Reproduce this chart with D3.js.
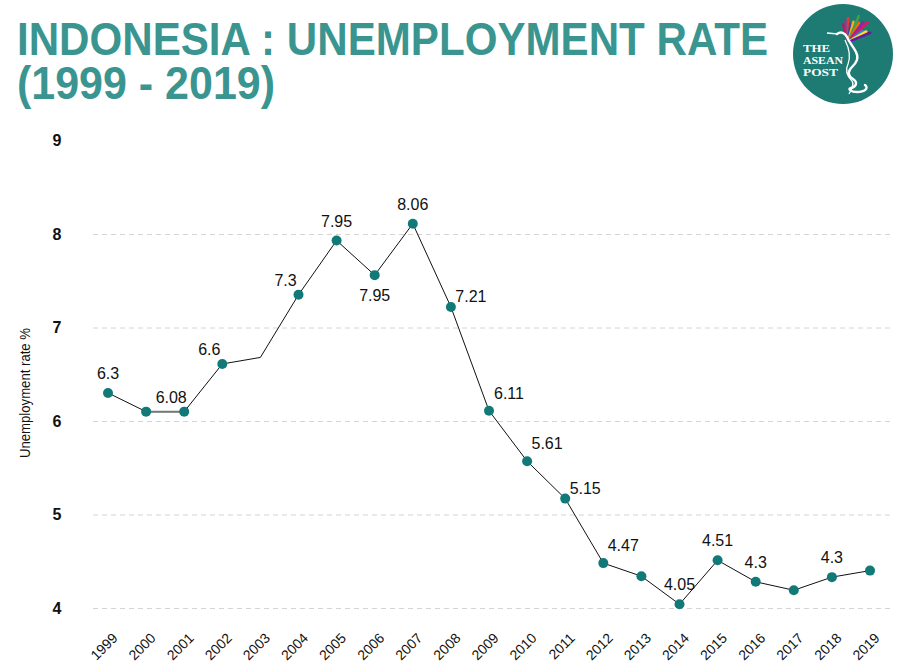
<!DOCTYPE html>
<html>
<head>
<meta charset="utf-8">
<script src="https://cdn.jsdelivr.net/npm/d3@7"></script>
<style>
  body { margin: 0; background: #fff; }
  svg { display: block; font-family: "Liberation Sans", Arial, sans-serif; }
</style>
</head>
<body>
<script>
// data
var years = [1999, 2000, 2001, 2002, 2003, 2004, 2005, 2006, 2007, 2008, 2009,
             2010, 2011, 2012, 2013, 2014, 2015, 2016, 2017, 2018, 2019];
var rates = [6.30, 6.10, 6.10, 6.61, 6.68, 7.35, 7.93, 7.56, 8.11, 7.22, 6.11,
             5.57, 5.17, 4.48, 4.34, 4.04, 4.51, 4.28, 4.19, 4.33, 4.40];
// printed labels (as they appear on the chart, null = no label)
var valueLabels = ["6.3", null, "6.08", "6.6", null, "7.3", "7.95", "7.95", "8.06", "7.21", "6.11",
                   "5.61", "5.15", "4.47", null, "4.05", "4.51", "4.3", null, "4.3", null];
var labelPlace = ["above", null, "upleft", "upleft", null, "upleft", "above", "below", "above", "right", "upright",
                  "upright", "right", "upright", null, "above", "above", "above", null, "above", null];
var noMarker = [2003];
var yTicks = [4, 5, 6, 7, 8, 9];
var gridTicks = [4, 5, 6, 7, 8];

var width = 900, height = 672;
var teal = "#117a78";
var titleColor = "#3a9591";

var placeOffsets = {
  above:   [0, -14],
  below:   [0, 26],
  right:   [20, -5],
  upright: [20, -12],
  upleft:  [-13, -9]
};

var svg = d3.select("body").append("svg")
  .attr("width", width)
  .attr("height", height);

// title (one text, two lines)
var title = svg.append("text")
  .attr("fill", titleColor)
  .attr("font-weight", "bold")
  .attr("font-size", 46);
title.append("tspan").attr("x", 17).attr("y", 55)
  .attr("textLength", 751).attr("lengthAdjust", "spacingAndGlyphs")
  .text("INDONESIA : UNEMPLOYMENT RATE");
title.append("tspan").attr("x", 17).attr("y", 99)
  .attr("textLength", 258).attr("lengthAdjust", "spacingAndGlyphs")
  .text("(1999 - 2019)");

// scales
var x = d3.scaleLinear().domain([1999, 2019]).range([108, 870]);
var y = d3.scaleLinear().domain([4, 9]).range([608, 140.5]);

// gridlines
svg.append("g")
  .attr("transform", "translate(890,0)")
  .call(d3.axisLeft(y).tickValues(gridTicks).tickSize(799).tickFormat(""))
  .call(g => g.select(".domain").remove())
  .call(g => g.selectAll(".tick line")
    .attr("stroke", "#d4d4d4")
    .attr("stroke-dasharray", "5,4"));

// y axis labels
svg.append("g")
  .attr("transform", "translate(57,0)")
  .call(d3.axisLeft(y).tickValues(yTicks).tickSize(0).tickPadding(0).tickFormat(d3.format("d")))
  .call(g => g.select(".domain").remove())
  .call(g => g.selectAll("text")
    .attr("text-anchor", "middle")
    .attr("fill", "#111")
    .attr("font-size", 16)
    .attr("font-weight", "bold")
    .attr("font-family", "'Liberation Sans', Arial, sans-serif"));

svg.append("text")
  .attr("transform", "translate(30,393) rotate(-90)")
  .attr("text-anchor", "middle")
  .attr("font-size", 15)
  .attr("textLength", 130)
  .attr("lengthAdjust", "spacingAndGlyphs")
  .attr("fill", "#111")
  .text("Unemployment rate %");

// x axis
svg.append("g")
  .attr("transform", "translate(0,639)")
  .call(d3.axisBottom(x).tickValues(years).tickSize(0).tickFormat(d3.format("d")))
  .call(g => g.select(".domain").remove())
  .call(g => g.selectAll("text")
    .attr("x", 0).attr("y", 0).attr("dy", 0)
    .attr("transform", "translate(10,0) rotate(-45)")
    .attr("text-anchor", "end")
    .attr("fill", "#111")
    .attr("font-size", 14)
    .attr("font-family", "'Liberation Sans', Arial, sans-serif"));

var points = years.map((yr, i) => ({year: yr, rate: rates[i], label: valueLabels[i], place: labelPlace[i]}));

var line = d3.line().x(d => x(d.year)).y(d => y(d.rate));

svg.append("path")
  .datum(points)
  .attr("fill", "none")
  .attr("stroke", "#111")
  .attr("stroke-width", 1)
  .attr("d", line);

// the flat 2000-2001 stretch is drawn heavier in grey
svg.append("path")
  .datum(points.filter(d => d.year === 2000 || d.year === 2001))
  .attr("fill", "none")
  .attr("stroke", "#777")
  .attr("stroke-width", 2)
  .attr("d", line);

svg.append("g").selectAll("circle")
  .data(points.filter(d => noMarker.indexOf(d.year) < 0))
  .enter().append("circle")
  .attr("cx", d => x(d.year))
  .attr("cy", d => y(d.rate))
  .attr("r", 5)
  .attr("fill", teal);

svg.append("g").selectAll("text")
  .data(points.filter(d => d.label))
  .enter().append("text")
  .attr("x", d => x(d.year) + placeOffsets[d.place][0])
  .attr("y", d => y(d.rate) + placeOffsets[d.place][1])
  .attr("text-anchor", "middle")
  .attr("font-size", 16)
  .attr("fill", "#111")
  .text(d => d.label);

// logo
var logo = svg.append("g").attr("transform", "translate(843,54)");
logo.append("circle").attr("r", 50).attr("fill", "#1d7b74");
var wingColors = ["#c2185b", "#7b3fa0", "#e53935", "#3949ab", "#f9a825", "#43a047", "#ef6c00", "#8e24aa", "#d81b60", "#1e88e5", "#fdd835", "#6a1b9a"];
wingColors.forEach(function (c, i) {
  var a = -105 + i * 7.5;
  var rad = a * Math.PI / 180;
  var x0 = 5, y0 = -12;
  var len = 18 + (i % 3) * 3 + (i > 4 && i < 9 ? 4 : 0);
  logo.append("line")
    .attr("x1", x0 + Math.cos(rad) * 3).attr("y1", y0 + Math.sin(rad) * 3)
    .attr("x2", x0 + Math.cos(rad) * len).attr("y2", y0 + Math.sin(rad) * len)
    .attr("stroke", c)
    .attr("stroke-width", 2.6)
    .attr("stroke-linecap", "round");
});
// bird: beak, head and long tail
logo.append("path")
  .attr("d", "M-16,-21 L-5,-20")
  .attr("stroke", "#fff").attr("stroke-width", 1.3).attr("fill", "none");
logo.append("path")
  .attr("d", "M-6,-20 C-2,-23 2,-21 4,-17 C6,-12 10,-8 13,-2 C16,4 14,8 9,13 C5,17 4,21 10,25 C16,29 12,33 8,34 C4,35 8,38 14,38 C22,38 26,34 22,31")
  .attr("stroke", "#fff").attr("stroke-width", 2.4).attr("fill", "none").attr("stroke-linecap", "round");
logo.append("path")
  .attr("d", "M2,-14 C6,-6 8,2 5,10 C2,16 4,22 9,27 C12,31 8,36 6,40")
  .attr("stroke", "#fff").attr("stroke-width", 1.3).attr("fill", "none");
var logoText = logo.append("g")
  .attr("fill", "#fff")
  .attr("font-family", "'Liberation Serif', 'DejaVu Serif', serif")
  .attr("font-weight", "bold")
  .attr("font-size", 10);
logoText.append("text").attr("x", -40).attr("y", -2).attr("textLength", 27).attr("lengthAdjust", "spacingAndGlyphs").text("THE");
logoText.append("text").attr("x", -40).attr("y", 10).attr("textLength", 40).attr("lengthAdjust", "spacingAndGlyphs").text("ASEAN");
logoText.append("text").attr("x", -40).attr("y", 22).attr("textLength", 35).attr("lengthAdjust", "spacingAndGlyphs").text("POST");
</script>
</body>
</html>
